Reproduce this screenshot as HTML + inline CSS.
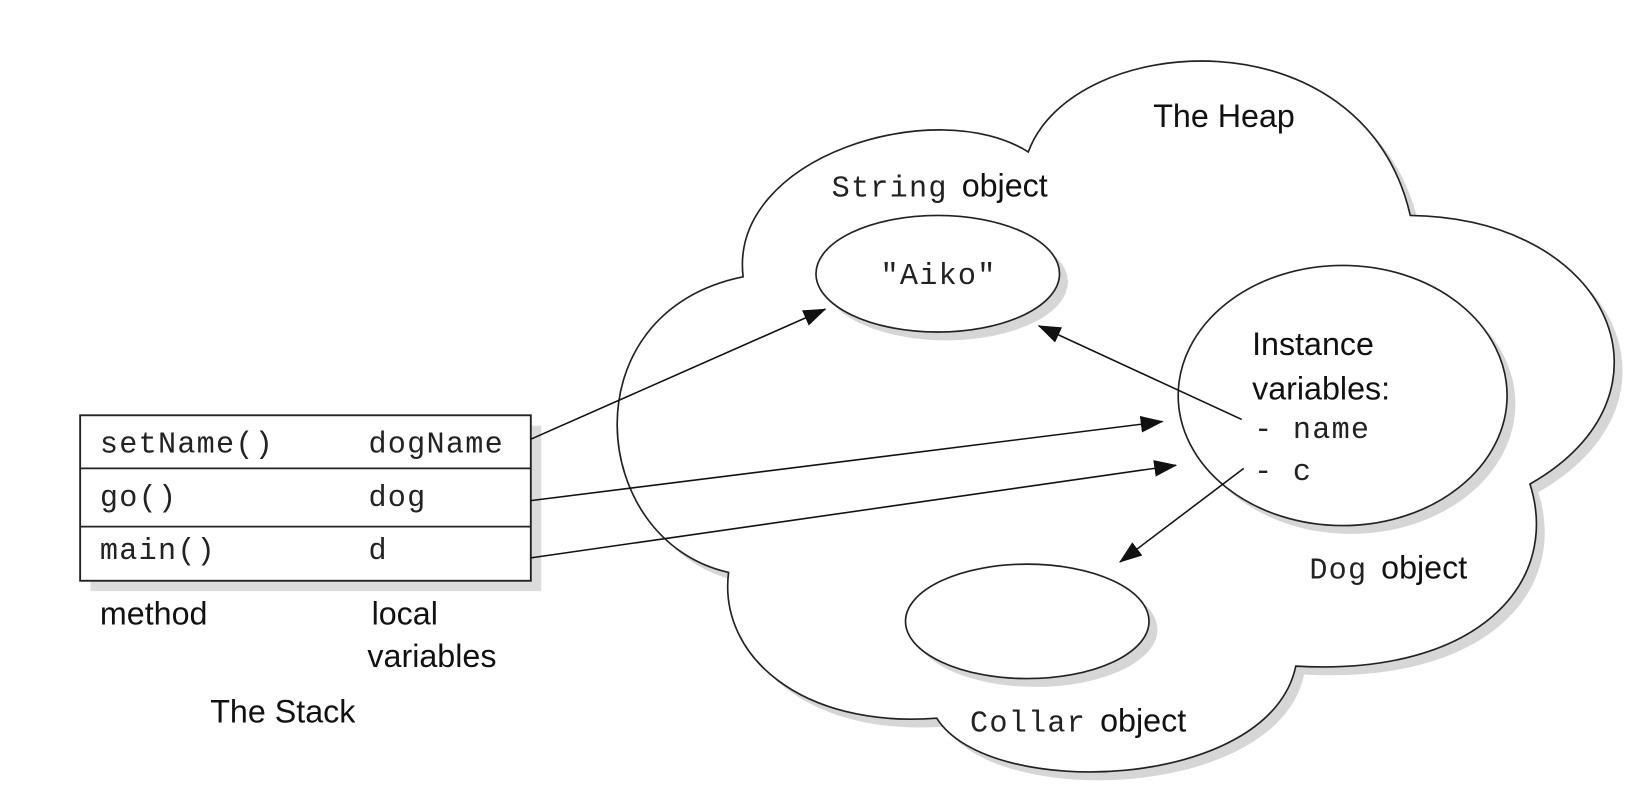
<!DOCTYPE html>
<html><head><style>
html,body{margin:0;padding:0;background:#fff;}
svg{display:block}
.m{font-family:"Liberation Mono",monospace;font-size:29px;fill:#222;letter-spacing:1.2px}
.s{font-family:"Liberation Sans",sans-serif;font-size:31px;fill:#111}
</style></head><body>
<svg width="1632" height="804" viewBox="0 0 1632 804" xmlns="http://www.w3.org/2000/svg">
<defs>
<marker id="ah" markerWidth="22" markerHeight="16" refX="21" refY="8" orient="auto" markerUnits="userSpaceOnUse" viewBox="0 0 22 16">
<path d="M0,0 L22,8 L0,16 z" fill="#111"/>
</marker>
<path id="cloud" d="M714,266 C700,150 900,90 988,146 C1030,30 1310,10 1355,207 C1550,210 1620,380 1470,465 C1500,560 1420,650 1245,640 C1220,760 950,770 900,690 C770,700 690,630 700,550 C565,520 545,300 714,266 Z"/>
</defs>
<g transform="scale(1.0408)">
<use href="#cloud" transform="translate(8,8)" fill="#d6d6d6"/>
<use href="#cloud" fill="#fff" stroke="#222" stroke-width="1.6"/>
<rect x="87" y="409" width="433" height="159" fill="#dcdcdc"/>
<rect x="77" y="399" width="433" height="159" fill="#fff" stroke="#222" stroke-width="1.8"/>
<line x1="77" y1="450" x2="510" y2="450" stroke="#222" stroke-width="1.6"/>
<line x1="77" y1="506" x2="510" y2="506" stroke="#222" stroke-width="1.6"/>
<text class="m" x="96" y="435">setName()</text>
<text class="m" x="354" y="435">dogName</text>
<text class="m" x="96" y="486">go()</text>
<text class="m" x="354" y="486">dog</text>
<text class="m" x="96" y="537">main()</text>
<text class="m" x="354" y="537">d</text>
<text class="s" x="96" y="600">method</text>
<text class="s" x="357" y="600">local</text>
<text class="s" x="353" y="641">variables</text>
<text class="s" x="202" y="694">The Stack</text>
<ellipse cx="909" cy="271" rx="117" ry="56" fill="#d6d6d6"/>
<ellipse cx="901" cy="263" rx="117" ry="56" fill="#fff" stroke="#222" stroke-width="1.6"/>
<ellipse cx="1298" cy="388" rx="158" ry="125" fill="#d6d6d6"/>
<ellipse cx="1290" cy="380" rx="158" ry="125" fill="#fff" stroke="#222" stroke-width="1.6"/>
<ellipse cx="995" cy="605" rx="117" ry="55" fill="#d6d6d6"/>
<ellipse cx="987" cy="597" rx="117" ry="55" fill="#fff" stroke="#222" stroke-width="1.6"/>
<text class="s" x="1108" y="122">The Heap</text>
<text class="m" x="799" y="189">String</text><text class="s" x="924" y="189">object</text>
<text class="m" x="846" y="273">"Aiko"</text>
<text class="s" x="1203" y="341">Instance</text>
<text class="s" x="1203" y="384">variables:</text>
<text class="m" x="1205" y="421">- name</text>
<text class="m" x="1205" y="461">- c</text>
<text class="m" x="1258" y="556">Dog</text><text class="s" x="1327" y="556">object</text>
<text class="m" x="932" y="703">Collar</text><text class="s" x="1057" y="703">object</text>
<g stroke="#111" stroke-width="1.5" fill="none" marker-end="url(#ah)">
<line x1="510" y1="422" x2="793" y2="297"/>
<line x1="510" y1="481" x2="1117" y2="405"/>
<line x1="510" y1="536" x2="1130" y2="447"/>
<line x1="1193" y1="403" x2="998" y2="313"/>
<line x1="1195" y1="450" x2="1076" y2="540"/>
</g>
</g>
</svg>
</body></html>
